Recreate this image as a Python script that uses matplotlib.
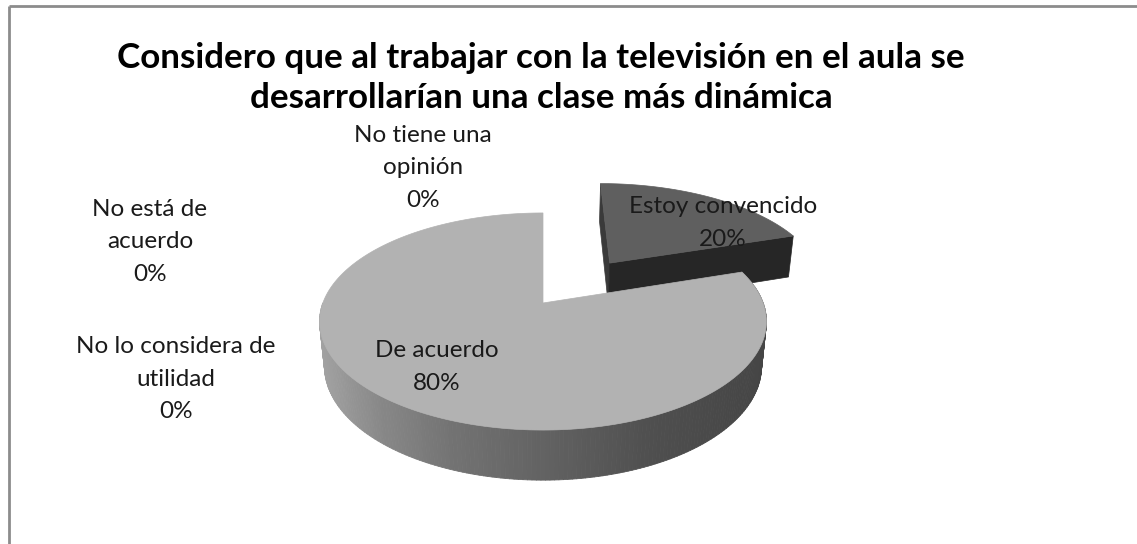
import numpy as np
import matplotlib
matplotlib.use('Agg')
import matplotlib.pyplot as plt
from matplotlib.patches import Polygon
from matplotlib.collections import PolyCollection

# data
categories = ['Estoy convencido', 'De acuerdo', 'No lo considera de utilidad',
              'No está de acuerdo', 'No tiene una opinión']
values = [20, 80, 0, 0, 0]
title = 'Considero que al trabajar con la televisión en el aula se\ndesarrollarían una clase más dinámica'

# label lines as wrapped in the original chart
label_lines = [['Estoy convencido'], ['De acuerdo'], ['No lo considera de', 'utilidad'],
               ['No está de', 'acuerdo'], ['No tiene una', 'opinión']]

W, H = 1137, 544
fig = plt.figure(figsize=(W / 100, H / 100), dpi=100)
ax = fig.add_axes([0, 0, 1, 1])
ax.set_xlim(0, W)
ax.set_ylim(H, 0)
ax.axis('off')

# camera for the 3d look
CX, CY = 543, 303
F, D = 1134, 5.151
elev = np.radians(28.6)
s, c = np.sin(elev), np.cos(elev)
depth = 0.235
explode = 0.50


def proj(x, y, z):
    v = y * s + z * c
    w = y * c - z * s
    k = F / (D + w)
    return CX + x * k, CY - v * k


def wall_shade(px):
    return np.interp(px, [318, 380, 450, 550, 650, 770], [0.64, 0.53, 0.45, 0.38, 0.31, 0.27])


# angles: start at 12 o'clock, go clockwise
total = sum(values)
start = 90.0
slices = []
for v in values:
    span = 360.0 * v / total
    slices.append((start - span, start))
    start -= span

# --- exploded slice (Estoy convencido) drawn first, it sits further back
a0, a1 = slices[0]
mid = np.radians((a0 + a1) / 2)
ox, oy = explode * np.cos(mid) + 0.03, explode * np.sin(mid)
th = np.radians(np.linspace(a0, a1, 60))
top = [proj(ox, oy, 0)] + [proj(ox + np.cos(t), oy + np.sin(t), 0) for t in th]
e = np.radians(a0)
front = [proj(ox, oy, 0), proj(ox + np.cos(e), oy + np.sin(e), 0),
         proj(ox + np.cos(e), oy + np.sin(e), -depth), proj(ox, oy, -depth)]
e2 = np.radians(a1)
left = [proj(ox, oy, 0), proj(ox + np.cos(e2), oy + np.sin(e2), 0),
        proj(ox + np.cos(e2), oy + np.sin(e2), -depth), proj(ox, oy, -depth)]
ax.add_patch(Polygon(left, closed=True, fc='#3a3a3a', ec='#3a3a3a', lw=0.5))
ax.add_patch(Polygon(front, closed=True, fc='#262626', ec='#262626', lw=0.5))
ax.add_patch(Polygon(top, closed=True, fc='#5f5f5f', ec='#5f5f5f', lw=0.5))

# --- main slice (De acuerdo)
b0, b1 = slices[1]
ws = np.radians(np.linspace(180, 378, 200))
quads, cols = [], []
for t0, t1 in zip(ws[:-1], ws[1:]):
    q = [proj(np.cos(t0), np.sin(t0), 0), proj(np.cos(t1), np.sin(t1), 0),
         proj(np.cos(t1), np.sin(t1), -depth), proj(np.cos(t0), np.sin(t0), -depth)]
    quads.append(q)
    g = wall_shade(q[0][0])
    cols.append((g, g, g))
wall = PolyCollection(quads, facecolors=cols, edgecolors=cols, linewidths=0.6)
ax.add_collection(wall)

th = np.radians(np.linspace(b0, b1, 300))
top = [proj(0, 0, 0)] + [proj(np.cos(t), np.sin(t), 0) for t in th]
ax.add_patch(Polygon(top, closed=True, fc='#b2b2b2', ec='#b2b2b2', lw=0.5))

# --- text
font = 'Lato'
for i, ln in enumerate(title.split('\n')):
    ax.text(541, 68 + i * 40, ln, ha='center', va='baseline', fontsize=25.2,
            fontweight='bold', family=font)

# label anchors (centre x, first baseline y)
anchors = [(723, 213), (437, 357), (176, 353), (150, 216), (423, 142)]
step = 32.5
for lines, v, (lx, ly) in zip(label_lines, values, anchors):
    for i, ln in enumerate(lines + ['%d%%' % v]):
        ax.text(lx, ly + i * step, ln, ha='center', va='baseline', fontsize=17.5,
                family=font, color='#1a1a1a')

# chart border (only top and left show in the crop)
ax.plot([9, 9], [H, 6], color='#8c8c8c', lw=2, solid_capstyle='butt')
ax.plot([9, W], [6, 6], color='#8c8c8c', lw=2, solid_capstyle='butt')

fig.savefig('out.png', dpi=100)
